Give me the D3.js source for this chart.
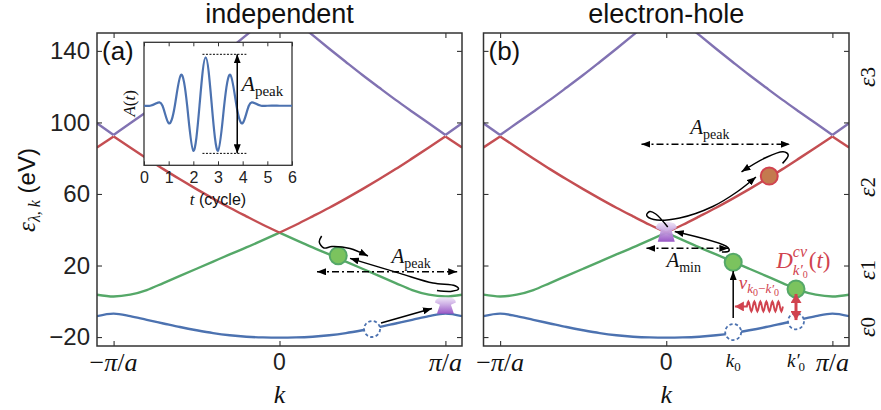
<!DOCTYPE html>
<html>
<head>
<meta charset="utf-8">
<script src="https://cdn.jsdelivr.net/npm/d3@7"></script>
<style>
  body { margin: 0; background: #fff; }
  svg { display: block; }
</style>
</head>
<body>
<svg id="chart" width="881" height="410"></svg>
<script>
// ---- band energies (eV) on one half of the Brillouin zone, k in units of pi/a ----
const kSide      = [0, 0.1, 0.2, 0.3, 0.4, 0.5, 0.6, 0.7, 0.8, 0.9, 1.0, 1.1];
const band0      = [-20.3, -20.2, -19.8, -19.0, -17.8, -16.2, -14.4, -12.4, -10.4, -8.3, -6.9, -8.3];
const band1      = [38.4, 34.2, 30.1, 26.2, 22.2, 18.2, 14.2, 10.2, 6.3, 3.7, 2.7, 3.7];
const band2      = [38.4, 42.8, 47.5, 52.3, 57.4, 62.7, 68.2, 73.9, 79.9, 86.0, 92.2, 86.0];
const band3      = [165.0, 156.5, 148.8, 141.2, 133.8, 126.5, 119.5, 112.6, 106.0, 99.5, 93.0, 99.5];
const bands      = [band0, band1, band2, band3];
const bandKinks  = [[], [0], [-1, 0, 1], [-1, 1]];   // band crossings where the curve is not smooth
const bandColors = ["#4c72b0", "#55a868", "#c44e52", "#8172b2"];

// axis ticks
const energyTicks = [-20, 20, 60, 100, 140];
const kTicks      = [-1, 0, 1];
const epsLevels   = [-14.4, 17.5, 63.9, 125.4];      // band labels on the right

// vector potential pulse shown in the inset (t in optical cycles)
const tPulse = [0, 0.25, 0.5, 0.75, 1, 1.25, 1.5, 1.75, 2, 2.25, 2.5, 2.75, 3, 3.25, 3.5, 3.75, 4, 4.25, 4.5, 4.75, 5, 5.5, 6];
const aPulse = [0, 0, 0.05, 0, -0.36, 0, 0.64, 0, -0.93, 0, 1, 0, -0.93, 0, 0.64, 0, -0.36, 0, 0.05, 0, 0, 0, 0];
const tTicks = [0, 1, 2, 3, 4, 5, 6];

// ---- annotations, in (k [pi/a], energy [eV]) ----
const aElectron   = [0.354, 25.5];
const aHole       = [0.558, -15.5];
const aCone       = {k: 1.0, top: 2.2, bot: -7.0};
const aLoopUpper  = [[0.254, 36.5], [0.240, 33.1], [0.268, 29.8], [0.316, 30.6], [0.425, 29.5], [0.533, 25.3]];
const aLoopLower  = [[0.949, 6.0], [1.040, 5.6], [1.079, 6.9], [1.058, 8.7], [0.925, 10.2], [0.726, 15.6], [0.425, 24.0]];
const aExcite     = [[0.612, -12.1], [0.919, -4.0]];
const aPeakSpan   = {k0: 0.226, k1: 1.071, e: 16.5, lk: 0.793, le: 21.4};

const bElectron0  = [0.403, 21.8];
const bHole0      = [0.403, -17.2];
const bElectron1  = [0.781, 6.9];
const bHole1      = [0.781, -11.2];
const bHoleUp     = [0.620, 70.0];      // hole promoted into the third band
const bCone       = {k: 0.0, top: 44.5, bot: 33.3};
const bLoopLong   = [[0.009, 41.5], [-0.063, 48.8], [-0.099, 50.2], [-0.118, 48.2], [-0.075, 45.7], [0.081, 46.6], [0.280, 53.0], [0.425, 61.1], [0.540, 69.5]];
const bLoopTop    = [[0.700, 77.1], [0.734, 81.8], [0.704, 83.6], [0.594, 80.1], [0.453, 72.4]];
const bLoopMin    = [[0.335, 27.6], [0.377, 28.1], [0.371, 30.1], [0.051, 39.0]];
const bPeakSpan   = {k0: -0.149, k1: 0.744, e: 87.8, lk: 0.262, le: 93.6};
const bMinSpan    = {k0: -0.119, k1: 0.374, e: 29.6, lk: 0.105, le: 19.4};
const bExcite     = [[0.403, -9.3], [0.403, 16.9]];
const bDipole     = [[0.781, 4.1], [0.781, -10.5]];
const bPhonon     = {k0: 0.702, k1: 0.413, e: -2.9};
const bVLabel     = [0.558, 6.6];
const bDLabel     = [0.662, 18.4];

// ---- layout ----
const SANS  = "'Liberation Sans', Arial, Helvetica, sans-serif";
const SERIF = "'Liberation Serif', 'DejaVu Serif', 'Times New Roman', serif";
const FRAME = "#333";
const ANN_RED = "#d1434f";
const NBSP = "\u00a0";
const yTop = 33, yBot = 346;
const panels = [
  {id: "a", x0: 97,    x1: 462, title: "independent",   tag: "(a)"},
  {id: "b", x0: 483.5, x1: 849, title: "electron-hole", tag: "(b)"}
];
const y = d3.scaleLinear().domain([-25, 150]).range([yBot, yTop]);

const svg = d3.select("#chart");
const defs = svg.append("defs");

function marker(id, color, w, h) {
  defs.append("marker").attr("id", id)
    .attr("viewBox", `0 0 ${w} ${h}`)
    .attr("refX", w).attr("refY", h / 2)
    .attr("markerWidth", w).attr("markerHeight", h)
    .attr("markerUnits", "userSpaceOnUse")
    .attr("orient", "auto-start-reverse")
    .append("path").attr("d", `M0,0L${w},${h / 2}L0,${h}Z`).attr("fill", color);
}
marker("ahK", "#000", 9, 7);
marker("ahR", ANN_RED, 9, 11);
marker("ahRs", ANN_RED, 9, 10);

const grad = defs.append("linearGradient").attr("id", "coneGrad")
  .attr("x1", 0).attr("y1", 0).attr("x2", 0).attr("y2", 1);
grad.append("stop").attr("offset", "0%").attr("stop-color", "#efe6f7");
grad.append("stop").attr("offset", "45%").attr("stop-color", "#c8a6e2");
grad.append("stop").attr("offset", "100%").attr("stop-color", "#9550c4");

// Mixed-font text as one <text> with positioned tspans.
// mark/back let a subscript sit under a superscript; after resumes past the widest piece.
function rich(parent, x, yPos, parts, opts = {}) {
  const tmp = parent.append("text").attr("visibility", "hidden");
  const widths = parts.map(p => {
    tmp.attr("font-family", p.fam || SERIF).attr("font-size", p.s)
      .attr("font-style", p.it ? "italic" : "normal").text(p.t);
    return tmp.node().getComputedTextLength();
  });
  tmp.remove();
  let cur = 0, mark = 0, maxEnd = 0;
  const xs = [];
  parts.forEach((p, i) => {
    if (p.back) cur = mark;
    if (p.after) cur = maxEnd;
    if (p.mark) mark = cur;
    cur += p.dx || 0;
    xs.push(cur);
    cur += widths[i];
    maxEnd = Math.max(maxEnd, cur);
  });
  const off = opts.anchor === "middle" ? -maxEnd / 2 : opts.anchor === "end" ? -maxEnd : 0;
  const text = parent.append("text")
    .attr("transform", `translate(${x + off},${yPos})`)
    .attr("fill", opts.fill || "#111");
  parts.forEach((p, i) => {
    text.append("tspan")
      .attr("x", xs[i]).attr("y", p.sh || 0)
      .attr("font-family", p.fam || SERIF)
      .attr("font-size", p.s)
      .attr("font-style", p.it ? "italic" : "normal")
      .text(p.t);
  });
  return text;
}

function fullBand(vals) {
  const pts = [];
  for (let i = kSide.length - 1; i > 0; i--) pts.push([-kSide[i], vals[i]]);
  for (let i = 0; i < kSide.length; i++) pts.push([kSide[i], vals[i]]);
  return pts;
}
function splitAt(pts, kinks) {
  const segs = [];
  let cur = [];
  pts.forEach(p => {
    cur.push(p);
    if (cur.length > 1 && kinks.some(k => Math.abs(k - p[0]) < 1e-9)) { segs.push(cur); cur = [p]; }
  });
  if (cur.length > 1) segs.push(cur);
  return segs;
}

function spanArrow(g, x, s) {
  g.append("line")
    .attr("x1", x(s.k0)).attr("x2", x(s.k1)).attr("y1", y(s.e)).attr("y2", y(s.e))
    .attr("stroke", "#000").attr("stroke-width", 1.5)
    .attr("stroke-dasharray", "7,3,2,3")
    .attr("marker-start", "url(#ahK)").attr("marker-end", "url(#ahK)");
}
function amp(g, xp, yp, sub) {
  rich(g, xp, yp, [
    {t: "A", s: 21, it: true},
    {t: sub, s: 14, sh: 5}
  ], {anchor: "middle"});
}
function cone(g, x, c) {
  const cx = x(c.k), t = y(c.top), b = y(c.bot), h = b - t;
  const p = d3.path();
  p.moveTo(cx - 10.5, t + h * 0.32);
  p.quadraticCurveTo(cx - 10.5, t, cx, t);
  p.quadraticCurveTo(cx + 10.5, t, cx + 10.5, t + h * 0.32);
  p.lineTo(cx + 5.5, t + h * 0.45);
  p.lineTo(cx + 8.5, b);
  p.lineTo(cx - 8.5, b);
  p.lineTo(cx - 5.5, t + h * 0.45);
  p.closePath();
  g.append("path").attr("d", p.toString()).attr("fill", "url(#coneGrad)").attr("opacity", 0.95);
}
function electron(g, x, pt, fill, stroke) {
  g.append("circle").attr("cx", x(pt[0])).attr("cy", y(pt[1])).attr("r", 8.5)
    .attr("fill", fill).attr("stroke", stroke).attr("stroke-width", 2);
}
function hole(g, x, pt) {
  g.append("circle").attr("cx", x(pt[0])).attr("cy", y(pt[1])).attr("r", 8)
    .attr("fill", "#fff").attr("stroke", "#4c72b0").attr("stroke-width", 1.8)
    .attr("stroke-dasharray", "3.2,2.4");
}
function track(g, x, pts) {
  const line = d3.line().x(d => x(d[0])).y(d => y(d[1])).curve(d3.curveCatmullRom.alpha(0.5));
  g.append("path").attr("d", line(pts)).attr("fill", "none")
    .attr("stroke", "#000").attr("stroke-width", 1.5)
    .attr("marker-end", "url(#ahK)");
}

panels.forEach((pn, pi) => {
  const x = d3.scaleLinear().domain([-1.1, 1.1]).range([pn.x0, pn.x1]);
  const g = svg.append("g");

  defs.append("clipPath").attr("id", "clip" + pn.id)
    .append("rect").attr("x", pn.x0).attr("y", yTop).attr("width", pn.x1 - pn.x0).attr("height", yBot - yTop);

  // bands
  const plot = g.append("g").attr("clip-path", `url(#clip${pn.id})`);
  const line = d3.line().x(d => x(d[0])).y(d => y(d[1])).curve(d3.curveMonotoneX);
  bands.forEach((vals, bi) => {
    splitAt(fullBand(vals), bandKinks[bi]).forEach(seg => {
      plot.append("path").attr("d", line(seg)).attr("fill", "none")
        .attr("stroke", bandColors[bi]).attr("stroke-width", 2.4).attr("stroke-linejoin", "round");
    });
  });

  // frame and inward ticks on all four sides
  const tickStyle = sel => {
    sel.select(".domain").remove();
    sel.selectAll(".tick line").attr("stroke", FRAME).attr("stroke-width", 1.1);
  };
  const left = g.append("g").attr("transform", `translate(${pn.x0},0)`)
    .call(d3.axisLeft(y).tickValues(energyTicks).tickSize(-5).tickPadding(7)
      .tickFormat(pi === 0 ? (d => d < 0 ? "\u2212" + Math.abs(d) : d) : ""));
  tickStyle(left);
  left.selectAll("text").attr("font-family", SANS).attr("font-size", 24).attr("fill", "#222");
  g.append("g").attr("transform", `translate(${pn.x1},0)`)
    .call(d3.axisRight(y).tickValues(energyTicks).tickSize(-5).tickFormat("")).call(tickStyle);
  g.append("g").attr("transform", `translate(0,${yTop})`)
    .call(d3.axisTop(x).tickValues(kTicks).tickSize(-5).tickFormat("")).call(tickStyle);
  g.append("g").attr("transform", `translate(0,${yBot})`)
    .call(d3.axisBottom(x).tickValues(kTicks).tickSize(-5).tickFormat("")).call(tickStyle);
  g.append("rect").attr("x", pn.x0).attr("y", yTop).attr("width", pn.x1 - pn.x0).attr("height", yBot - yTop)
    .attr("fill", "none").attr("stroke", FRAME).attr("stroke-width", 1.5);

  // k tick labels
  kTicks.forEach(k => {
    if (k === 0) {
      g.append("text").attr("x", x(0)).attr("y", 370).attr("text-anchor", "middle")
        .attr("font-family", SANS).attr("font-size", 23).attr("fill", "#222").text("0");
    } else {
      const parts = [{t: "\u03c0", s: 26, it: true}, {t: "/", s: 26}, {t: "a", s: 26, it: true}];
      if (k < 0) parts.unshift({t: "\u2212", s: 26});
      rich(g, x(k), 371, parts, {anchor: "middle"});
    }
  });
  rich(g, x(0), 403, [{t: "k", s: 26, it: true}], {anchor: "middle"});

  // title and panel tag
  g.append("text").attr("x", x(0)).attr("y", 23).attr("text-anchor", "middle")
    .attr("font-family", SANS).attr("font-size", 27).attr("fill", "#111").text(pn.title);
  g.append("text").attr("x", pn.x0 + 5).attr("y", 60)
    .attr("font-family", SANS).attr("font-size", 26).attr("fill", "#111").text(pn.tag);

  const ann = g.append("g");
  if (pi === 0) {
    cone(ann, x, aCone);
    hole(ann, x, aHole);
    electron(ann, x, aElectron, "#7bc35e", "#55a868");
    track(ann, x, aLoopUpper);
    track(ann, x, aLoopLower);
    track(ann, x, aExcite);
    spanArrow(ann, x, aPeakSpan);
    amp(ann, x(aPeakSpan.lk), y(aPeakSpan.le), "peak");
  } else {
    cone(ann, x, bCone);
    hole(ann, x, bHole0);
    hole(ann, x, bHole1);
    electron(ann, x, bElectron0, "#7bc35e", "#55a868");
    electron(ann, x, bElectron1, "#7bc35e", "#55a868");
    electron(ann, x, bHoleUp, "#c47a4e", "#d1434f");
    track(ann, x, bLoopLong);
    track(ann, x, bLoopTop);
    track(ann, x, bLoopMin);
    track(ann, x, bExcite);
    spanArrow(ann, x, bPeakSpan);
    amp(ann, x(bPeakSpan.lk), y(bPeakSpan.le), "peak");
    spanArrow(ann, x, bMinSpan);
    amp(ann, x(bMinSpan.lk), y(bMinSpan.le), "min");

    // interband dipole between k0' states
    ann.append("line")
      .attr("x1", x(bDipole[0][0])).attr("x2", x(bDipole[1][0]))
      .attr("y1", y(bDipole[0][1])).attr("y2", y(bDipole[1][1]))
      .attr("stroke", ANN_RED).attr("stroke-width", 3)
      .attr("marker-start", "url(#ahR)").attr("marker-end", "url(#ahR)");

    // Coulomb coupling drawn as a wavy arrow
    const xs = x(bPhonon.k0), xe = x(bPhonon.k1), yw = y(bPhonon.e);
    const wave = d3.path();
    const waveEnd = xe + 12, nW = 6, L = xs - waveEnd;
    wave.moveTo(xs, yw);
    for (let i = 1; i <= nW * 8; i++) {
      const u = i / (nW * 8);
      wave.lineTo(xs - u * L, yw + 5 * Math.sin(u * nW * 2 * Math.PI));
    }
    wave.lineTo(xe, yw);
    ann.append("path").attr("d", wave.toString()).attr("fill", "none")
      .attr("stroke", ANN_RED).attr("stroke-width", 1.9).attr("marker-end", "url(#ahRs)");

    // k0, k0' labels
    rich(g, x(bElectron0[0]), 367, [{t: "k", s: 19, it: true}, {t: "0", s: 13, sh: 4}], {anchor: "middle"});
    rich(g, x(bElectron1[0]), 367, [
      {t: "k\u2032", s: 19, it: true}, {t: "0", s: 13, sh: 4, dx: -1}
    ], {anchor: "middle"});

    rich(g, x(bVLabel[0]), y(bVLabel[1]), [
      {t: "v", s: 19, it: true},
      {t: "k", s: 13, it: true, sh: 4}, {t: "0", s: 10, sh: 7},
      {t: "\u2212", s: 13, sh: 4}, {t: "k\u2032", s: 13, it: true, sh: 4},
      {t: "0", s: 10, sh: 7}
    ], {anchor: "middle", fill: ANN_RED});

    rich(g, x(bDLabel[0]), y(bDLabel[1]), [
      {t: "D", s: 23, it: true},
      {t: "cv", s: 16, it: true, sh: -11, mark: true},
      {t: "k\u2032", s: 15, it: true, sh: 7, back: true},
      {t: "0", s: 10, sh: 10},
      {t: "(", s: 23, after: true, dx: 1}, {t: "t", s: 23, it: true}, {t: ")", s: 23}
    ], {fill: ANN_RED});

    // band labels on the right
    epsLevels.forEach((e, i) => {
      const rg = svg.append("g").attr("transform", `translate(868,${y(e)}) rotate(-90)`);
      rich(rg, 0, 7, [{t: "\u03b5", s: 24, it: true}, {t: String(i), s: 21}], {anchor: "middle"});
    });
  }
});

// y-axis title
{
  const rg = svg.append("g").attr("transform", "translate(27,190) rotate(-90)");
  rich(rg, 0, 8, [
    {t: "\u03b5", s: 25, it: true},
    {t: "\u03bb, k", s: 16, it: true, sh: 5},
    {t: NBSP + "(eV)", s: 24, fam: SANS}
  ], {anchor: "middle"});
}

// ---- inset: vector potential pulse ----
{
  const ix0 = 144, ix1 = 292, iy0 = 42.3, iy1 = 165.3;
  const tx = d3.scaleLinear().domain([0, 6]).range([ix0, ix1]);
  const ay = d3.scaleLinear().domain([-1.23, 1.31]).range([iy1, iy0]);
  const g = svg.append("g");
  g.append("rect").attr("x", ix0).attr("y", iy0).attr("width", ix1 - ix0).attr("height", iy1 - iy0)
    .attr("fill", "#fff");
  const st = sel => {
    sel.select(".domain").remove();
    sel.selectAll(".tick line").attr("stroke", FRAME).attr("stroke-width", 1);
  };
  const bx = g.append("g").attr("transform", `translate(0,${iy1})`)
    .call(d3.axisBottom(tx).tickValues(tTicks).tickSize(-4).tickPadding(6).tickFormat(d3.format("d")));
  st(bx);
  bx.selectAll("text").attr("font-family", SANS).attr("font-size", 16).attr("fill", "#222");
  g.append("g").attr("transform", `translate(0,${iy0})`)
    .call(d3.axisTop(tx).tickValues(tTicks).tickSize(-4).tickFormat("")).call(st);
  g.append("rect").attr("x", ix0).attr("y", iy0).attr("width", ix1 - ix0).attr("height", iy1 - iy0)
    .attr("fill", "none").attr("stroke", FRAME).attr("stroke-width", 1.3);

  const pulse = tPulse.map((t, i) => [t, aPulse[i]]);
  g.append("path")
    .attr("d", d3.line().x(d => tx(d[0])).y(d => ay(d[1])).curve(d3.curveNatural)(pulse))
    .attr("fill", "none").attr("stroke", "#4c72b0").attr("stroke-width", 2.2);

  // peak-to-peak marker
  const yHi = ay(1) - 3, yLo = ay(-0.93) + 2.6;
  [yHi, yLo].forEach(yy => g.append("line")
    .attr("x1", tx(2.37)).attr("x2", tx(4.15)).attr("y1", yy).attr("y2", yy)
    .attr("stroke", "#000").attr("stroke-width", 1).attr("stroke-dasharray", "2,1.5"));
  g.append("line").attr("x1", tx(3.78)).attr("x2", tx(3.78)).attr("y1", yHi).attr("y2", yLo)
    .attr("stroke", "#000").attr("stroke-width", 1.5)
    .attr("marker-start", "url(#ahK)").attr("marker-end", "url(#ahK)");
  rich(g, tx(3.95), ay(0.3), [{t: "A", s: 22, it: true}, {t: "peak", s: 15, sh: 5}]);

  const rg = g.append("g").attr("transform", `translate(129,${ay(0.05)}) rotate(-90)`);
  rich(rg, 0, 6, [{t: "A", s: 17, it: true}, {t: "(", s: 17}, {t: "t", s: 17, it: true}, {t: ")", s: 17}], {anchor: "middle"});

  rich(g, tx(3), 205, [{t: "t", s: 17, it: true}, {t: NBSP + "(cycle)", s: 16, fam: SANS}], {anchor: "middle"});
}
</script>
</body>
</html>
